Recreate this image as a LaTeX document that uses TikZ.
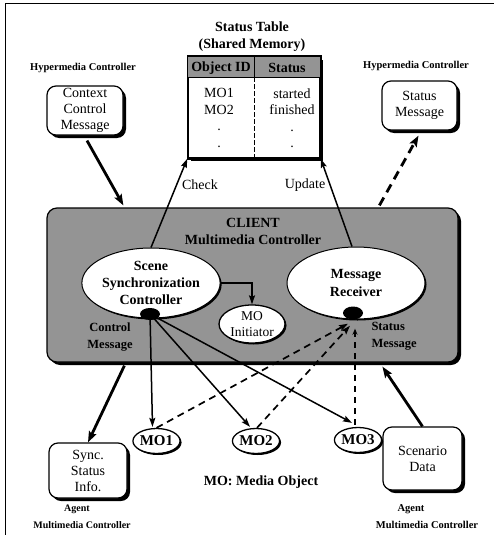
\documentclass[tikz,border=0pt]{standalone}
\usepackage{fontspec}
\setmainfont{Liberation Serif}
\usetikzlibrary{shapes.geometric,arrows.meta,shadows,calc}
\begin{document}
\begin{tikzpicture}[x=1pt,y=-1pt,
  shade/.style={fill=black!42},
  sbox/.style={draw, line width=1.2pt, rounded corners=9pt, fill=white, align=center,
    inner sep=0pt, font=\fontsize{14}{16}\selectfont,
    drop shadow={shadow xshift=3pt, shadow yshift=-3pt, fill=black, opacity=1}},
  oval/.style={ellipse, draw, line width=1pt, fill=white, inner sep=0pt, align=center,
    drop shadow={shadow xshift=1.5pt, shadow yshift=-1.5pt, fill=black, opacity=1}},
  blackdot/.style={ellipse, fill=black, minimum width=20pt, minimum height=12pt, inner sep=0pt},
  bigbold/.style={font=\fontsize{14}{17}\selectfont\bfseries, align=center},
  small/.style={font=\fontsize{10.5}{16}\selectfont\bfseries, align=center},
  thickarr/.style={line width=2.8pt, -{Stealth[length=11pt,width=8pt,inset=2pt]}},
  medarr/.style={line width=1.5pt, -{Stealth[length=9pt,width=6pt,inset=1.5pt]}},
  dasharr/.style={line width=1.7pt, dash pattern=on 7pt off 5pt, -{Stealth[length=9pt,width=6pt,inset=1.5pt]}},
  thickdash/.style={line width=2.8pt, dash pattern=on 9pt off 6pt, -{Stealth[length=11pt,width=8pt,inset=2pt]}}
]
\useasboundingbox (0,0) rectangle (494,535);
% frame
\draw[line width=1pt] (5,535) -- (5,4) -- (494,4);

% status table
\node[bigbold] (sttitle) at (252,36.5) {Status Table\\(Shared Memory)};
\node[draw, line width=1.5pt, fill=white, minimum width=132pt, minimum height=101pt, inner sep=0pt,
  drop shadow={shadow xshift=3pt, shadow yshift=-3pt, fill=black, opacity=1}] (tbl) at (254,107.5) {};
\fill[shade] (tbl.north west) rectangle ($(tbl.north east)+(0,21)$);
\draw[line width=1.5pt] (tbl.north west) rectangle (tbl.south east);
\draw[line width=1pt] ($(tbl.north west)+(0,21)$) -- ($(tbl.north east)+(0,21)$);
\draw[line width=1pt] (tbl.north) -- ++(0,21);
\draw[line width=1pt, dash pattern=on 5pt off 2pt] ($(tbl.north)+(0,21)$) -- (tbl.south);
\node[font=\fontsize{14}{16}\selectfont\bfseries] (hid) at (221,68) {Object ID};
\node[font=\fontsize{14}{16}\selectfont\bfseries] (hst) at (287,68) {Status};
\node[font=\fontsize{14}{16.5}\selectfont, align=center, anchor=north] (col1) at (219,85) {MO1\\MO2\\.\\.};
\node[font=\fontsize{14}{16.5}\selectfont, align=center, anchor=north] (col2) at (292,85) {started\\finished\\.\\.};

% hypermedia controllers
\node[small] (hcl) at (83,68) {Hypermedia Controller};
\node[small] (hcr) at (416,66) {Hypermedia Controller};
\node[sbox, minimum width=76pt, minimum height=49pt] (ctx) at (85,110.5) {Context\\Control\\Message};
\node[sbox, minimum width=75pt, minimum height=49pt] (stat) at (419.5,105.5) {Status\\Message};

% client
\node[draw, line width=1.2pt, rounded corners=10pt, shade, minimum width=411pt, minimum height=154pt,
  drop shadow={shadow xshift=3pt, shadow yshift=-3pt, fill=black, opacity=1}] (client) at (252.5,285) {};
\node[bigbold] (cltitle) at (253,231) {CLIENT\\Multimedia Controller};
\node[oval, minimum width=138pt, minimum height=70pt, font=\fontsize{14}{17}\selectfont\bfseries] (scene) at (151,283) {Scene\\Synchronization\\Controller};
\node[oval, minimum width=138pt, minimum height=72pt, font=\fontsize{14}{18}\selectfont\bfseries] (msg) at (356,283) {Message\\Receiver};
\node[oval, line width=1.3pt, minimum width=66pt, minimum height=38pt, font=\fontsize{13.5}{16}\selectfont] (mi) at (252,324) {MO\\Initiator};
\node[blackdot] (sdot) at (150,314) {};
\node[blackdot, minimum height=13pt] (rdot) at (353,313) {};
\node[font=\fontsize{12.5}{17}\selectfont\bfseries, align=center] (cm) at (110,337.5) {Control\\Message};
\node[font=\fontsize{12.5}{17}\selectfont\bfseries, align=left, anchor=west] (sm) at (368,336) {Status\\Message};

% bottom
\node[sbox, minimum width=78pt, minimum height=55pt] (sync) at (88,470.5) {Sync.\\Status\\Info.};
\node[sbox, minimum width=79pt, minimum height=63pt] (scen) at (422.5,458.5) {Scenario\\Data};
\node[oval, line width=1.3pt, minimum width=45pt, minimum height=25pt, font=\fontsize{15}{17}\selectfont\bfseries] (mo1) at (156.5,441) {MO1};
\node[oval, line width=1.3pt, minimum width=44pt, minimum height=25pt, font=\fontsize{15}{17}\selectfont\bfseries] (mo2) at (256,441) {MO2};
\node[oval, line width=1.3pt, minimum width=45pt, minimum height=25pt, font=\fontsize{15}{17}\selectfont\bfseries] (mo3) at (358,440) {MO3};
\node[font=\fontsize{14}{16}\selectfont\bfseries] (legend) at (261,482) {MO: Media Object};
\node[font=\fontsize{10}{16}\selectfont\bfseries] (agl1) at (77,509) {Agent};
\node[font=\fontsize{10}{16}\selectfont\bfseries] (agl2) at (82,525) {Multimedia Controller};
\node[font=\fontsize{10.5}{16}\selectfont\bfseries] (agr1) at (411,509) {Agent};
\node[font=\fontsize{10.5}{16}\selectfont\bfseries] (agr2) at (427,525) {Multimedia Controller};

% connectors
\draw[thickarr] ($(ctx.south)+(2,5)$) -- ($(client.north west)+(77,-2)$);
\draw[thickdash] ($(client.north west)+(333,-2)$) -- ($(stat.south)+(-1,5)$);
\draw[medarr] (scene.north) -- (tbl.south west);
\draw[medarr] ($(msg.north)+(-4,0)$) -- (tbl.south east);
\node[font=\fontsize{14}{16}\selectfont] (chk) at (200,185) {Check};
\node[font=\fontsize{14}{16}\selectfont] (upd) at (305,185) {Update};
\draw[medarr] (scene.east) -| (mi.north);

\draw[thickarr] ($(client.south west)+(78,3)$) -- (sync.north);
\draw[thickarr] (scen.north) -- ($(client.south west)+(336,4)$);

\draw[medarr] (sdot.center) -- ($(mo1.north)+(-4,-1)$);
\draw[medarr] (sdot.center) -- ($(mo2.north)+(-6,-1)$);
\draw[medarr] (sdot.center) -- ($(mo3.north)+(-6,-4)$);
\draw[dasharr] (mo1.north) -- ($(rdot.south)+(-5,4)$);
\draw[dasharr] ($(mo2.north)+(1,0)$) -- ($(rdot.south)+(-3,6)$);
\draw[line width=1.5pt, dash pattern=on 6pt off 5pt, -{Stealth[length=6pt,width=5pt]}] ($(mo3.north)+(-3,-2)$) -- ($(rdot.south)+(2,9)$);
\end{tikzpicture}
\end{document}
